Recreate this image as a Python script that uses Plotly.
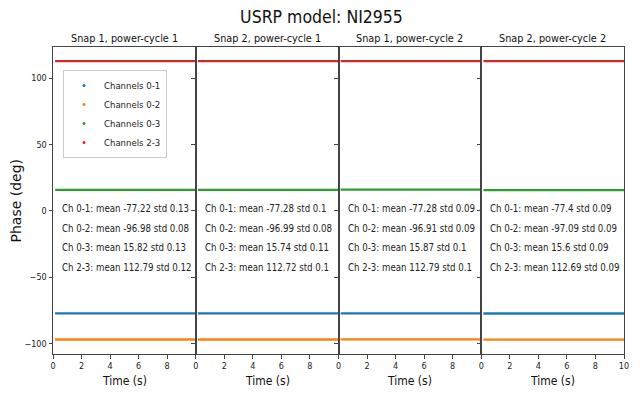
import plotly.graph_objects as go
from plotly.subplots import make_subplots

# ---- data ----
panel_titles = ["Snap 1, power-cycle 1", "Snap 2, power-cycle 1",
                "Snap 1, power-cycle 2", "Snap 2, power-cycle 2"]
series_names = ["Channels 0-1", "Channels 0-2", "Channels 0-3", "Channels 2-3"]
short_names = ["Ch 0-1", "Ch 0-2", "Ch 0-3", "Ch 2-3"]
time_s = [0.15, 1, 2, 3, 4, 5, 6, 7, 8, 9, 10]
means = [
    [-77.22, -96.98, 15.82, 112.79],
    [-77.28, -96.99, 15.74, 112.72],
    [-77.28, -96.91, 15.87, 112.79],
    [-77.40, -97.09, 15.60, 112.69],
]
stds = [
    [0.13, 0.08, 0.13, 0.12],
    [0.10, 0.08, 0.11, 0.10],
    [0.09, 0.09, 0.10, 0.10],
    [0.09, 0.09, 0.09, 0.09],
]
y_ticks = [-100, -50, 0, 50, 100]
y_ticktext = ["\u2212100", "\u221250", "0", "50", "100"]
colors = ["#1f77b4", "#ff7f0e", "#2ca02c", "#d62728"]

FONT = "DejaVu Sans Condensed, DejaVu Sans, sans-serif"
AX = "#444444"

fig = make_subplots(rows=1, cols=4, shared_yaxes=True, horizontal_spacing=0,
                    subplot_titles=panel_titles)

for p in range(4):
    for s in range(4):
        fig.add_trace(go.Scatter(x=time_s, y=[means[p][s]] * len(time_s),
                                 mode="lines", line=dict(color=colors[s], width=2.3),
                                 showlegend=False, hoverinfo="skip"),
                      row=1, col=p + 1)

for s in range(4):
    fig.add_trace(go.Scatter(x=[None], y=[None], mode="markers", name=series_names[s],
                             marker=dict(color=colors[s], size=3)), row=1, col=1)

ann_y = [2, -13, -28, -43]
for p in range(4):
    xref = "x" if p == 0 else f"x{p + 1}"
    yref = "y" if p == 0 else f"y{p + 1}"
    for s in range(4):
        fig.add_annotation(x=0.5, y=ann_y[s], xref=xref, yref=yref,
                           text=f"{short_names[s]}: mean {means[p][s]:g} std {stds[p][s]:g}",
                           showarrow=False, xanchor="left", yanchor="middle",
                           font=dict(family=FONT, size=9.6, color="#222"))
    # x-axis title
    fig.add_annotation(x=0.5, y=0, xref=f"{xref} domain", yref="paper",
                       text="Time (s)", showarrow=False, xanchor="center", yanchor="middle",
                       yshift=-27, font=dict(family=FONT, size=12, color="#111"))

fig.add_annotation(x=0, y=0.5, xref="x domain", yref="paper", text="Phase (deg)",
                   showarrow=False, textangle=-90, xanchor="center", yanchor="middle",
                   xshift=-38, font=dict(family="DejaVu Sans, sans-serif", size=14, color="#111"))

for i in range(1, 5):
    fig.update_xaxes(range=[0, 10], tickvals=[0, 2, 4, 6, 8] if i < 4 else [0, 2, 4, 6, 8, 10],
                     ticks="outside", ticklen=3.5, tickcolor=AX, showline=True, linecolor=AX,
                     linewidth=1, mirror=True, showgrid=False, zeroline=False, automargin=False,
                     tickfont=dict(family=FONT, size=9, color="#222"),
                     row=1, col=i)
    fig.update_yaxes(range=[-107.9, 123.4], tickvals=y_ticks, ticktext=y_ticktext,
                     ticks="outside", ticklen=3.5, tickcolor=AX, showline=True, linecolor=AX,
                     linewidth=1, mirror=True, showgrid=False, zeroline=False, automargin=False,
                     showticklabels=(i == 1),
                     tickfont=dict(family=FONT, size=9, color="#222"),
                     row=1, col=i)

for a in fig.layout.annotations[:4]:
    a.font = dict(family=FONT, size=10.8, color="#111")

fig.update_layout(
    width=643, height=394,
    margin=dict(l=53, r=19, t=47, b=40),
    paper_bgcolor="white", plot_bgcolor="white",
    title=dict(text="USRP model: NI2955", x=0.5, xanchor="center", y=0.957, yanchor="middle",
               font=dict(family=FONT, size=17.5, color="#111")),
    legend=dict(x=0.0175, y=0.925, xanchor="left", yanchor="top", bgcolor="white",
                bordercolor="#cccccc", borderwidth=1, font=dict(family=FONT, size=9.5, color="#222"),
                itemwidth=30, tracegroupgap=0),
    showlegend=True,
)

fig.write_html("out.html")
